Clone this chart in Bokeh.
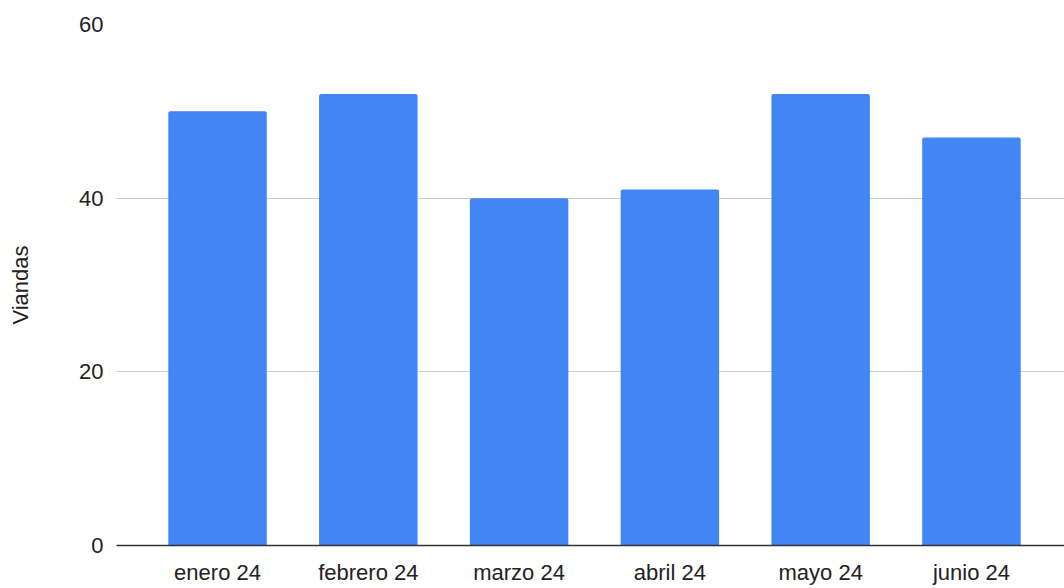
from bokeh.plotting import figure
from bokeh.models import Range1d, FixedTicker, ColumnDataSource
from bokeh.embed import file_html
from bokeh.resources import INLINE

months = ["enero 24", "febrero 24", "marzo 24", "abril 24", "mayo 24", "junio 24"]
viandas = [50, 52, 40, 41, 52, 47]
y_ticks = [0, 20, 40, 60]

xs = list(range(len(months)))
src = ColumnDataSource(dict(x=xs, top=viandas, month=months))

FONT = "Liberation Sans"
FS = "22px"

p = figure(width=1064, height=588, output_backend="svg", toolbar_location=None,
           x_range=Range1d(-0.67, 5.617), y_range=Range1d(0, 60),
           min_border_left=116, min_border_right=0, min_border_top=24, min_border_bottom=43)
p.outline_line_color = None
p.background_fill_color = "white"
p.border_fill_color = "white"

p.vbar(x="x", top="top", width=0.653, bottom=0, source=src,
       fill_color="#4285F4", line_color=None, border_radius=(2, 2, 0, 0))

# x axis
p.xaxis.ticker = FixedTicker(ticks=xs)
p.xaxis.major_label_overrides = {i: m for i, m in zip(xs, months)}
p.xaxis.major_tick_in = 0
p.xaxis.major_tick_out = 0
p.xaxis.minor_tick_line_color = None
p.xaxis.axis_line_color = "#333333"
p.xaxis.axis_line_width = 1.5
p.xaxis.major_label_text_font = FONT
p.xaxis.major_label_text_font_size = FS
p.xaxis.major_label_text_color = "#222222"
p.xaxis.major_label_standoff = 14
p.xgrid.grid_line_color = None

# y axis
p.yaxis.ticker = FixedTicker(ticks=y_ticks)
p.yaxis.major_tick_in = 0
p.yaxis.major_tick_out = 0
p.yaxis.minor_tick_line_color = None
p.yaxis.axis_line_color = None
p.yaxis.major_label_text_font = FONT
p.yaxis.major_label_text_font_size = FS
p.yaxis.major_label_text_color = "#222222"
p.yaxis.major_label_standoff = 13
p.yaxis.axis_label = "Viandas"
p.yaxis.axis_label_text_font = FONT
p.yaxis.axis_label_text_font_size = FS
p.yaxis.axis_label_text_font_style = "normal"
p.yaxis.axis_label_text_color = "#222222"
p.yaxis.axis_label_standoff = 43
p.ygrid.grid_line_color = "#cccccc"
p.ygrid.grid_line_width = 1

open("out.html", "w").write(file_html(p, INLINE))
